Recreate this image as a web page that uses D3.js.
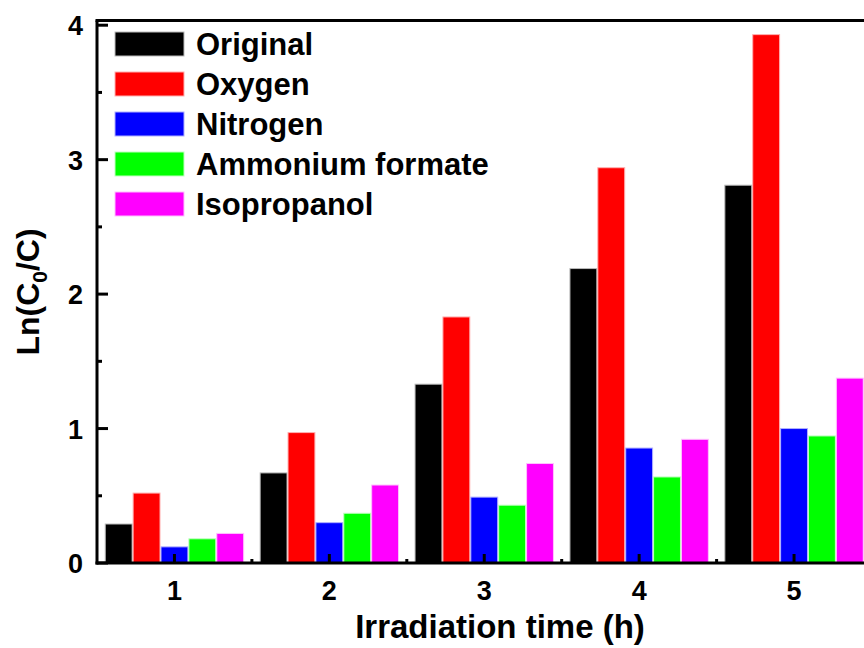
<!DOCTYPE html>
<html>
<head>
<meta charset="utf-8">
<script src="https://cdn.jsdelivr.net/npm/d3@7"></script>
<style>
  body { margin: 0; background: #fff; }
  svg { display: block; font-family: Arial, "Liberation Sans", sans-serif; font-weight: bold; }
</style>
</head>
<body>
<div id="chart"></div>
<script>
// irradiation time categories (h)
var hours = [1, 2, 3, 4, 5];
var seriesNames = ["Original", "Oxygen", "Nitrogen", "Ammonium formate", "Isopropanol"];
var seriesColors = ["#000000", "#ff0000", "#0000ff", "#00ff00", "#ff00ff"];
var seriesStroke = ["#bbbbbb", "#ffb0b0", "#b0b0ff", "#c0ffc0", "#ffc0ff"];

// Ln(C0/C)
var original = [0.29, 0.67, 1.33, 2.19, 2.81];
var oxygen = [0.52, 0.97, 1.83, 2.94, 3.93];
var nitrogen = [0.12, 0.30, 0.49, 0.855, 1.00];
var ammonium = [0.18, 0.37, 0.43, 0.64, 0.945];
var isopropanol = [0.22, 0.58, 0.74, 0.92, 1.375];

var yTicks = [0, 1, 2, 3, 4];
var yMinor = [0.5, 1.5, 2.5, 3.5];
var xMinor = [1.5, 2.5, 3.5, 4.5];

var seriesValues = [original, oxygen, nitrogen, ammonium, isopropanol];

var W = 864, H = 648;
var mLeft = 97, mTop = 20.5, mBottom = 563, mRight = 871.5;

var svg = d3.select('#chart').append('svg')
  .attr('width', W).attr('height', H);

var x = d3.scaleLinear().domain([0.5, 5.5]).range([mLeft, mRight]);
var y = d3.scaleLinear().domain([0, 4.035]).range([mBottom, mTop]);

var catW = x(2) - x(1);
var groupW = catW * 0.9;
var barW = groupW / seriesNames.length;

// bars
seriesValues.forEach(function(vals, s) {
  svg.append('g').selectAll('rect')
    .data(vals)
    .enter()
    .append('rect')
    .attr('x', function(d, i) { return x(hours[i]) - groupW / 2 + s * barW + 0.5; })
    .attr('y', function(d) { return y(d); })
    .attr('width', barW - 1)
    .attr('height', function(d) { return y(0) - y(d); })
    .style('fill', seriesColors[s])
    .style('stroke', seriesStroke[s])
    .style('stroke-width', 1);
});

// frame lines: left, bottom, top
var axisG = svg.append('g').style('stroke', '#000').style('stroke-width', 3).style('fill', 'none');
axisG.append('line').attr('x1', mLeft).attr('x2', mLeft).attr('y1', mTop).attr('y2', mBottom + 1.5);
axisG.append('line').attr('x1', mLeft - 1.5).attr('x2', mRight).attr('y1', mBottom).attr('y2', mBottom);
axisG.append('line').attr('x1', mLeft - 1.5).attr('x2', mRight).attr('y1', mTop).attr('y2', mTop);

// y ticks (inward)
axisG.selectAll('.ymaj').data(yTicks).enter().append('line')
  .attr('x1', mLeft).attr('x2', mLeft + 11)
  .attr('y1', function(d) { return y(d); }).attr('y2', function(d) { return y(d); });
axisG.selectAll('.ymin').data(yMinor).enter().append('line')
  .attr('x1', mLeft).attr('x2', mLeft + 5)
  .attr('y1', function(d) { return y(d); }).attr('y2', function(d) { return y(d); });

// x ticks (inward)
axisG.selectAll('.xmaj').data(hours).enter().append('line')
  .attr('x1', function(d) { return x(d); }).attr('x2', function(d) { return x(d); })
  .attr('y1', mBottom).attr('y2', mBottom - 9);
axisG.selectAll('.xmin').data(xMinor).enter().append('line')
  .attr('x1', function(d) { return x(d); }).attr('x2', function(d) { return x(d); })
  .attr('y1', mBottom).attr('y2', mBottom - 4);

// tick labels
svg.selectAll('.ylab').data(yTicks).enter().append('text')
  .attr('x', 83).attr('y', function(d) { return y(d) + 10; })
  .attr('text-anchor', 'end')
  .style('font-size', '27px')
  .text(function(d) { return d; });

svg.selectAll('.xlab').data(hours).enter().append('text')
  .attr('x', function(d) { return x(d); }).attr('y', 600)
  .attr('text-anchor', 'middle')
  .style('font-size', '27px')
  .text(function(d) { return d; });

// axis titles
svg.append('text')
  .attr('x', 500).attr('y', 638)
  .attr('text-anchor', 'middle')
  .style('font-size', '33px')
  .text('Irradiation time (h)');

var yt = svg.append('text')
  .attr('transform', 'translate(39,292) rotate(-90)')
  .attr('text-anchor', 'middle')
  .style('font-size', '32px');
yt.append('tspan').text('Ln(C');
yt.append('tspan').attr('dy', 8).style('font-size', '21px').text('0');
yt.append('tspan').attr('dy', -8).text('/C)');

// legend
var legend = svg.append('g').selectAll('g')
  .data(seriesNames)
  .enter()
  .append('g')
  .attr('transform', function(d, i) { return 'translate(115,' + (32 + i * 40) + ')'; });

legend.append('rect')
  .attr('width', 69).attr('height', 24)
  .style('fill', function(d, i) { return seriesColors[i]; })
  .style('stroke', function(d, i) { return seriesStroke[i]; })
  .style('stroke-width', 1);

legend.append('text')
  .attr('x', 81).attr('y', 23)
  .style('font-size', '31px')
  .text(function(d) { return d; });
</script>
</body>
</html>
